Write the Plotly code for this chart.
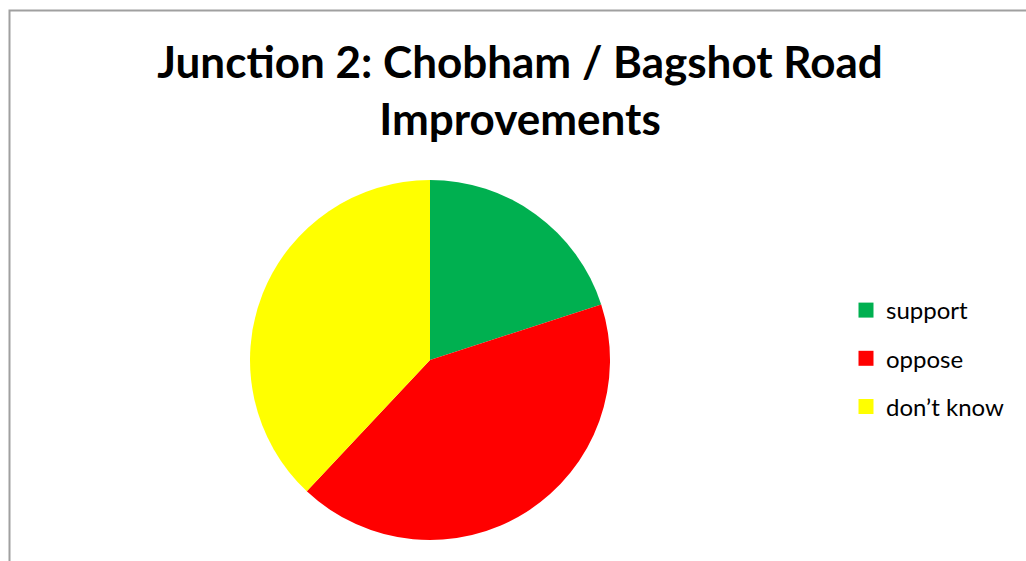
import plotly.graph_objects as go

# Survey responses
labels = ["support", "oppose", "don’t know"]
values = [20, 42, 38]
colors = ["#00B050", "#FF0000", "#FFFF00"]

W, H = 1026, 561

fig = go.Figure()

# Pie itself, legend drawn by dummy traces below so the entries can be spaced out
fig.add_trace(go.Pie(
    labels=labels,
    values=values,
    marker=dict(colors=colors, line=dict(width=0)),
    sort=False,
    direction="clockwise",
    rotation=0,
    textinfo="none",
    hoverinfo="label+percent",
    showlegend=False,
    domain=dict(x=[250 / W, 610 / W], y=[1 - 540 / H, 1 - 180 / H]),
))

for lab, col in zip(labels, colors):
    fig.add_trace(go.Scatter(
        x=[None], y=[None],
        mode="markers",
        name=lab,
        legendgroup=lab,
        marker=dict(symbol="square", size=15, color=col),
    ))

fig.update_layout(
    width=W,
    height=H,
    margin=dict(l=0, r=0, t=0, b=0),
    paper_bgcolor="white",
    plot_bgcolor="white",
    xaxis=dict(visible=False),
    yaxis=dict(visible=False),
    font=dict(family="Lato", color="black"),
    title=dict(
        text="<b>Junction 2: Chobham / Bagshot Road<br>Improvements</b>",
        x=520 / W,
        xanchor="center",
        y=1 - 78 / H,
        yanchor="top",
        font=dict(family="Lato", size=44, color="black"),
    ),
    legend=dict(
        x=846 / W,
        y=1 - 288 / H,
        xanchor="left",
        yanchor="top",
        traceorder="grouped",
        tracegroupgap=14,
        font=dict(size=24, family="Lato"),
        itemwidth=30,
    ),
    shapes=[dict(
        type="rect", xref="paper", yref="paper",
        x0=9.5 / W, x1=1.05, y0=-0.05, y1=1 - 10.5 / H,
        line=dict(color="#A0A0A0", width=2),
    )],
)

fig.write_html("out.html", config={"displayModeBar": False},
               post_script="document.body.style.margin='0';")
